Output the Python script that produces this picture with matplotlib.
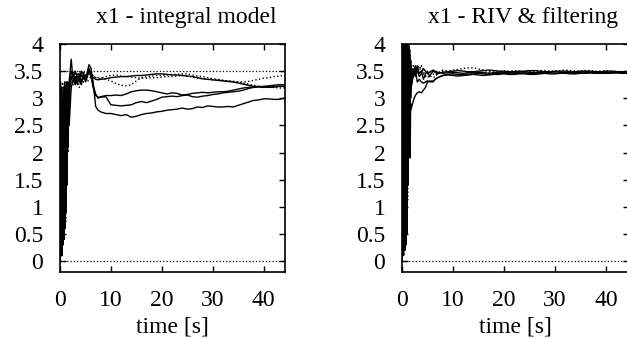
import matplotlib
matplotlib.use("Agg")
import matplotlib.pyplot as plt

plt.rcParams["font.family"] = ["Liberation Serif", "DejaVu Serif"]

# time axis shared by all runs [s]
t = [0, 0.1, 0.2, 0.3, 0.4, 0.5, 0.6, 0.7, 0.8, 0.9, 1.0, 1.1, 1.2, 1.3, 1.4, 1.5, 1.6, 1.7, 1.8,
     2.2, 2.6, 3.0, 3.4, 3.8, 4.2, 4.6, 5.0, 5.4,
     5.7, 6.1, 6.5, 7.0, 7.5,
     8, 9, 10, 11, 12, 13, 14, 15, 16, 17, 18, 19, 20, 21, 22, 23, 24, 25, 26,
     27, 28, 29, 30, 31, 32, 33, 34, 35, 36, 37, 38, 39, 40, 41, 42, 43, 44, 45]

# x1 - integral model
int_1 = [0, 2.8, 0.1, 3.1, 0.3, 2.9, 0.6, 3.2, 1.0, 2.4, 0.8, 2.9, 1.5, 3.3, 2.0, 2.6, 2.3, 2.9, 3.3,
         3.72, 3.3, 3.4, 3.25, 3.45, 3.3, 3.4, 3.35, 3.5,
         3.62, 3.55, 3.3, 2.85, 2.78,
         2.75, 2.72, 2.72, 2.70, 2.68, 2.70, 2.65, 2.67, 2.70, 2.72, 2.73, 2.75, 2.76,
         2.78, 2.79, 2.80, 2.82, 2.80, 2.81, 2.84, 2.83, 2.86, 2.85, 2.84, 2.84, 2.85,
         2.84, 2.87, 2.90, 2.93, 2.96, 2.97, 2.99, 2.99, 2.98, 2.98, 3.00, 2.95]
int_2 = [0, 1.5, 3.2, 0.2, 2.6, 0.5, 3.0, 0.9, 3.2, 1.3, 3.1, 1.6, 2.8, 2.2, 3.3, 2.4, 3.0, 2.5, 3.2,
         3.35, 3.45, 3.3, 3.4, 3.3, 3.45, 3.35, 3.4, 3.45,
         3.5, 3.4, 3.2, 3.05, 3.02,
         3.02, 3.03, 2.88, 2.87, 2.86, 2.87, 2.88, 2.92, 2.94, 2.92, 2.95, 2.98, 3.02,
         3.03, 3.04, 3.03, 3.05, 3.06, 3.03, 3.02, 3.04, 3.05, 3.07, 3.08, 3.10, 3.11,
         3.12, 3.13, 3.15, 3.18, 3.20, 3.21, 3.22, 3.23, 3.24, 3.25, 3.25, 3.26]
int_3 = [0, 3.3, 0.4, 2.2, 0.1, 3.0, 0.7, 2.7, 0.4, 3.1, 1.2, 2.5, 0.9, 3.0, 1.8, 3.2, 2.1, 3.3, 2.5,
         3.2, 3.35, 3.25, 3.45, 3.35, 3.25, 3.45, 3.3, 3.4,
         3.55, 3.45, 3.25, 3.08, 3.0,
         3.03, 3.05, 3.05, 3.06, 3.05, 3.08, 3.12, 3.14, 3.15, 3.15, 3.14, 3.12, 3.10,
         3.08, 3.10, 3.09, 3.06, 3.07, 3.09, 3.10, 3.11, 3.10, 3.11, 3.12, 3.12, 3.13,
         3.15, 3.17, 3.19, 3.20, 3.21, 3.22, 3.21, 3.20, 3.21, 3.22, 3.22, 3.22]
int_4 = [0, 2.0, 0.3, 2.6, 0.2, 3.3, 0.9, 2.8, 0.6, 3.0, 1.4, 3.2, 1.1, 2.9, 2.4, 3.1, 2.0, 2.8, 3.2,
         3.4, 3.5, 3.35, 3.3, 3.5, 3.4, 3.3, 3.45, 3.4,
         3.45, 3.4, 3.38, 3.4, 3.38,
         3.38, 3.35, 3.32, 3.27, 3.24, 3.23, 3.25, 3.32, 3.38, 3.40, 3.41, 3.42, 3.42,
         3.43, 3.44, 3.44, 3.45, 3.45, 3.43, 3.41, 3.40, 3.38, 3.36, 3.35, 3.33, 3.32,
         3.31, 3.30, 3.28, 3.26, 3.24, 3.22, 3.21, 3.21, 3.20, 3.19, 3.19, 3.18]
int_5 = [0, 0.6, 2.9, 0.1, 2.1, 0.4, 3.2, 0.5, 2.5, 1.0, 3.3, 0.7, 1.9, 2.6, 3.3, 2.2, 2.8, 3.1, 2.8,
         3.3, 3.25, 3.45, 3.35, 3.2, 3.35, 3.5, 3.4, 3.3,
         3.35, 3.4, 3.42, 3.38, 3.36,
         3.37, 3.40, 3.42, 3.43, 3.41, 3.40, 3.39, 3.38, 3.37, 3.37, 3.38, 3.38, 3.39,
         3.40, 3.40, 3.41, 3.42, 3.41, 3.39, 3.37, 3.36, 3.35, 3.34, 3.34, 3.33, 3.32,
         3.31, 3.30, 3.30, 3.31, 3.33, 3.35, 3.37, 3.38, 3.40, 3.41, 3.42, 3.43]
int_6 = [0, 3.1, 0.2, 1.8, 0.6, 2.5, 0.3, 3.2, 1.2, 3.3, 0.6, 2.0, 1.6, 2.7, 1.4, 3.0, 2.6, 3.2, 3.0,
         3.5, 3.4, 3.5, 3.4, 3.4, 3.5, 3.45, 3.35, 3.45,
         3.5, 3.45, 3.38, 3.35, 3.34,
         3.35, 3.36, 3.38, 3.39, 3.40, 3.40, 3.41, 3.42, 3.42, 3.43, 3.44, 3.45, 3.45,
         3.44, 3.43, 3.43, 3.42, 3.41, 3.40, 3.38, 3.36, 3.35, 3.34, 3.33, 3.32, 3.31,
         3.30, 3.28, 3.26, 3.24, 3.22, 3.21, 3.20, 3.21, 3.21, 3.22, 3.22, 3.23]

# x1 - RIV & filtering
riv_1 = [0, 4.3, 0.1, 3.8, 0.4, 4.1, 0.8, 3.9, 0.3, 4.2, 1.5, 3.9, 2.5, 4.1, 2.2, 3.9, 3.0, 3.6, 3.2,
         3.55, 3.4, 3.6, 3.45, 3.5, 3.35, 3.45, 3.5, 3.4,
         3.45, 3.5, 3.48, 3.45, 3.47,
         3.46, 3.47, 3.48, 3.47, 3.46, 3.47, 3.48, 3.48, 3.47, 3.46, 3.47, 3.48, 3.48,
         3.47, 3.47, 3.48, 3.49, 3.48, 3.47, 3.47, 3.48, 3.48, 3.49, 3.48, 3.47, 3.47,
         3.48, 3.48, 3.49, 3.48, 3.48, 3.47, 3.48, 3.48, 3.49, 3.48, 3.48, 3.48]
riv_2 = [0, 2.0, 0.3, 4.2, 0.2, 3.5, 1.0, 4.3, 0.6, 3.2, 1.8, 4.1, 1.4, 3.6, 2.2, 3.4, 1.9, 2.9, 2.8,
         2.95, 3.05, 3.1, 3.12, 3.1, 3.15, 3.2, 3.3, 3.32,
         3.3, 3.32, 3.35, 3.38, 3.4,
         3.42, 3.43, 3.42, 3.41, 3.42, 3.43, 3.44, 3.43, 3.42, 3.43, 3.44, 3.44, 3.45,
         3.44, 3.44, 3.45, 3.45, 3.44, 3.44, 3.45, 3.46, 3.45, 3.45, 3.46, 3.46, 3.45,
         3.45, 3.46, 3.46, 3.47, 3.46, 3.46, 3.46, 3.47, 3.47, 3.46, 3.46, 3.47]
riv_3 = [0, 3.9, 0.2, 4.3, 0.5, 3.7, 0.2, 4.2, 1.2, 3.4, 0.9, 4.0, 2.8, 3.8, 2.6, 3.4, 3.6, 3.0, 3.2,
         3.4, 3.55, 3.3, 3.35, 3.3, 3.28, 3.3, 3.32, 3.3,
         3.32, 3.3, 3.35, 3.38, 3.4,
         3.42, 3.44, 3.45, 3.44, 3.43, 3.44, 3.45, 3.46, 3.45, 3.44, 3.45, 3.46, 3.46,
         3.45, 3.45, 3.46, 3.47, 3.46, 3.45, 3.46, 3.46, 3.47, 3.46, 3.46, 3.47, 3.47,
         3.46, 3.46, 3.47, 3.47, 3.46, 3.47, 3.47, 3.46, 3.47, 3.47, 3.47, 3.47]
riv_4 = [0, 1.2, 3.6, 0.1, 4.2, 0.7, 3.3, 0.4, 3.8, 1.6, 4.1, 1.1, 3.5, 2.9, 4.0, 2.4, 3.8, 3.1, 3.5,
         3.5, 3.45, 3.55, 3.6, 3.5, 3.45, 3.4, 3.45, 3.5,
         3.48, 3.45, 3.42, 3.45, 3.48,
         3.5, 3.5, 3.52, 3.53, 3.55, 3.56, 3.56, 3.54, 3.52, 3.50, 3.50, 3.49, 3.50,
         3.50, 3.51, 3.50, 3.49, 3.50, 3.50, 3.51, 3.51, 3.50, 3.50, 3.51, 3.52, 3.51,
         3.50, 3.50, 3.51, 3.51, 3.50, 3.50, 3.51, 3.50, 3.50, 3.49, 3.50, 3.50]
riv_5 = [0, 3.5, 0.4, 3.0, 0.1, 4.1, 0.6, 3.7, 0.9, 4.3, 2.1, 3.7, 1.7, 3.1, 3.9, 2.8, 3.4, 3.7, 3.3,
         3.6, 3.5, 3.45, 3.5, 3.6, 3.5, 3.4, 3.38, 3.42,
         3.4, 3.38, 3.4, 3.45, 3.5,
         3.52, 3.5, 3.45, 3.43, 3.44, 3.45, 3.46, 3.47, 3.48, 3.48, 3.47, 3.46, 3.47,
         3.48, 3.48, 3.47, 3.46, 3.47, 3.48, 3.48, 3.49, 3.48, 3.47, 3.47, 3.48, 3.48,
         3.48, 3.49, 3.48, 3.47, 3.48, 3.48, 3.49, 3.48, 3.48, 3.47, 3.48, 3.48]
riv_6 = [0, 2.6, 0.2, 3.0, 0.8, 1.7, 0.3, 3.9, 1.3, 3.3, 0.5, 2.4, 3.9, 2.0, 3.5, 3.2, 2.6, 3.7, 3.4,
         3.45, 3.6, 3.5, 3.4, 3.45, 3.55, 3.5, 3.45, 3.48,
         3.5, 3.52, 3.5, 3.48, 3.47,
         3.48, 3.49, 3.50, 3.51, 3.50, 3.49, 3.49, 3.50, 3.51, 3.52, 3.51, 3.50, 3.50,
         3.49, 3.49, 3.50, 3.50, 3.51, 3.51, 3.50, 3.49, 3.49, 3.50, 3.50, 3.50, 3.49,
         3.49, 3.50, 3.50, 3.50, 3.49, 3.49, 3.50, 3.50, 3.49, 3.49, 3.49, 3.49]

int_runs = [int_1, int_2, int_3, int_4, int_5, int_6]
riv_runs = [riv_1, riv_2, riv_3, riv_4, riv_5, riv_6]
styles = ["-", "-", "-", ":", ":", "-"]
ref_int = [0, 3.5]
ref_riv = [0]

titles = ["x1 - integral model", "x1 - RIV & filtering"]
xticks = [0, 10, 20, 30, 40]
yticks = [0, 0.5, 1, 1.5, 2, 2.5, 3, 3.5, 4]
yticklabels = ["0", "0.5", "1", "1.5", "2", "2.5", "3", "3.5", "4"]

fig = plt.figure(figsize=(6.27, 3.39), dpi=100)
ax1 = fig.add_axes([0.0957, 0.1976, 0.3589, 0.6726])
ax2 = fig.add_axes([0.6411, 0.1976, 0.3620, 0.6726])

panels = [(ax1, int_runs, ref_int, 44.2, 0.56),
          (ax2, riv_runs, ref_riv, 44.5, 0.535)]

for i, (ax, runs, refs, xmax, tx) in enumerate(panels):
    for run, ls in zip(runs, styles):
        ax.plot(t, run, color="black", linestyle=ls, linewidth=1.0)
    for r in refs:
        ax.axhline(r, color="black", linestyle=":", linewidth=0.9)
    ax.set_xlim(0, xmax)
    ax.set_ylim(-0.2, 4)
    ax.set_xticks(xticks)
    ax.set_yticks(yticks)
    ax.set_yticklabels(yticklabels)
    ax.tick_params(direction="in", top=True, right=True, length=4,
                   width=1, labelsize=17)
    ax.tick_params(axis="y", pad=12)
    ax.tick_params(axis="x", pad=13)
    for s in ax.spines.values():
        s.set_linewidth(1.2)
    ax.set_xlabel("time [s]", fontsize=17, labelpad=4)
    ax.set_title(titles[i], fontsize=17, x=tx, pad=15)

fig.savefig("out.png", dpi=100)
